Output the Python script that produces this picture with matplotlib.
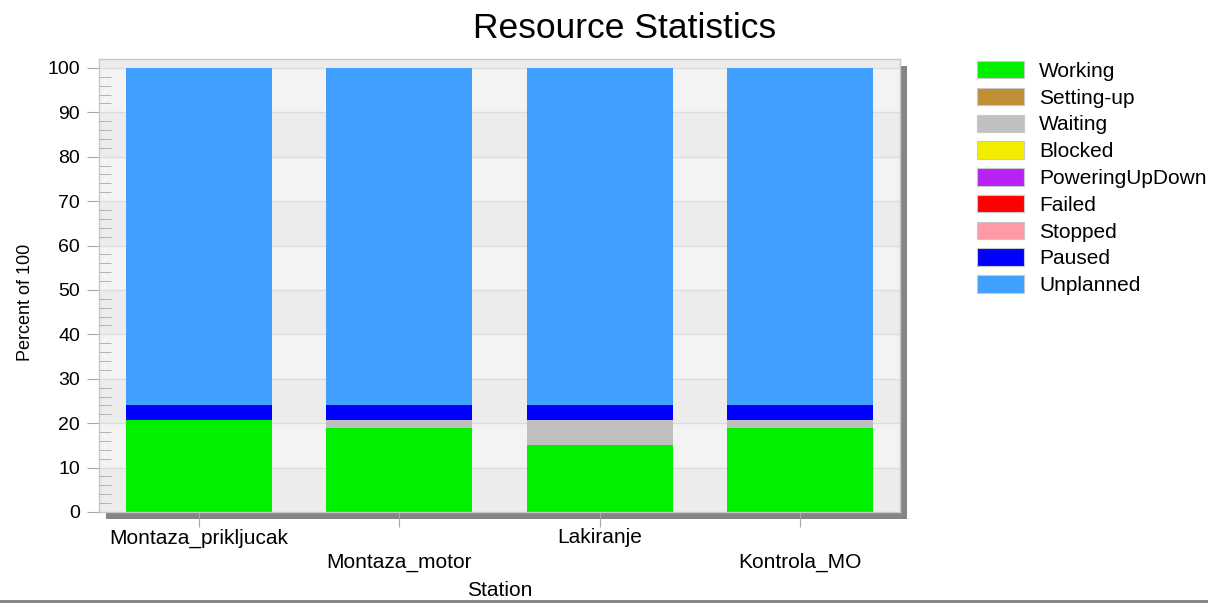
import numpy as np
import matplotlib
matplotlib.use("Agg")
import matplotlib.pyplot as plt
from matplotlib.patches import Patch, Rectangle
from matplotlib.lines import Line2D

plt.rcParams['font.family'] = ['Liberation Sans', 'DejaVu Sans']

estaciones = ["Montaza_prikljucak", "Montaza_motor", "Lakiranje", "Kontrola_MO"]
estados = ["Working", "Setting-up", "Waiting", "Blocked", "PoweringUpDown",
           "Failed", "Stopped", "Paused", "Unplanned"]
colores = ["#00f000", "#bf8f36", "#c0c0c0", "#f5ed00", "#b822f5",
           "#ff0000", "#ff99a8", "#0000ff", "#40a0ff"]

working = [20.8, 19.0, 15.0, 19.0]
setting_up = [0, 0, 0, 0]
waiting = [0, 1.8, 5.8, 1.8]
blocked = [0, 0, 0, 0]
powering = [0, 0, 0, 0]
failed = [0, 0, 0, 0]
stopped = [0, 0, 0, 0]
paused = [3.2, 3.2, 3.2, 3.2]
unplanned = [76.0, 76.0, 76.0, 76.0]

series = [working, setting_up, waiting, blocked, powering, failed, stopped, paused, unplanned]

W, H = 1208, 603
px = 72 / 100  # puntos por pixel
fig = plt.figure(figsize=(W / 100, H / 100), dpi=100)
ax_l, ax_r, ax_t, ax_b = 99, 900, 59, 512
ax = fig.add_axes([ax_l / W, 1 - ax_b / H, (ax_r - ax_l) / W, (ax_b - ax_t) / H])

# sombra
off = 7
fig.add_artist(Rectangle(((ax_l + off) / W, 1 - (ax_b + off) / H),
                         (ax_r - ax_l) / W, (ax_b - ax_t) / H,
                         transform=fig.transFigure, facecolor="#858585",
                         edgecolor="none", zorder=0))

ax.set_ylim(0, 102)
ax.set_xlim(-0.5, 3.5)
ax.set_facecolor("#ececec")
for i in range(10):
    ax.axhspan(i * 10, (i + 1) * 10, color="#ececec" if i % 2 == 0 else "#f3f3f3",
               lw=0, zorder=0)
for v in range(10, 101, 10):
    ax.axhline(v, color="#dddddd", lw=1, zorder=0.5)

x = np.arange(len(estaciones))
base = np.zeros(len(estaciones))
for vals, col in zip(series, colores):
    vals = np.array(vals, dtype=float)
    ax.bar(x, vals, 0.73, bottom=base, color=col, linewidth=0, zorder=2)
    base += vals

for s in ax.spines.values():
    s.set_color("#c8c8c8")
    s.set_linewidth(1)

ax.set_yticks(range(0, 101, 10))
ax.set_yticks(range(0, 101, 2), minor=True)
ax.tick_params(axis='y', which='major', direction='out', length=12 * px, color="#a8a8a8",
               labelsize=14, pad=7 * px)
ax.tick_params(axis='y', which='minor', direction='in', length=12 * px, color="#a8a8a8")
ax.set_xticks(x)
ax.set_xticklabels([e if i % 2 == 0 else "\n" + e for i, e in enumerate(estaciones)],
                   linespacing=1.38)
ax.tick_params(axis='x', direction='out', length=15 * px, color="#a8a8a8",
               labelsize=15, pad=1)

ax.set_ylabel("Percent of 100", fontsize=13)
ax.yaxis.set_label_coords(-(99 - 34) / (ax_r - ax_l), (512 - 302) / (ax_b - ax_t))
ax.set_xlabel("Station", fontsize=15, labelpad=6)

fig.text(625 / W, 1 - 28 / H, "Resource Statistics", fontsize=25.5,
         ha="center", va="center")

handles = [Patch(facecolor=c, edgecolor="#c8c8c8", linewidth=0.8) for c in colores]
fig.legend(handles, estados, loc="upper left",
           bbox_to_anchor=(977 / W, 1 - 61 / H), frameon=False, fontsize=15,
           borderpad=0, borderaxespad=0, handlelength=2.26, handleheight=0.91,
           handletextpad=0.72, labelspacing=0.33)

fig.add_artist(Line2D([0, 1], [1 - 601 / H, 1 - 601 / H], transform=fig.transFigure,
                      color="#808080", lw=2))

fig.savefig("out.png", dpi=100)
